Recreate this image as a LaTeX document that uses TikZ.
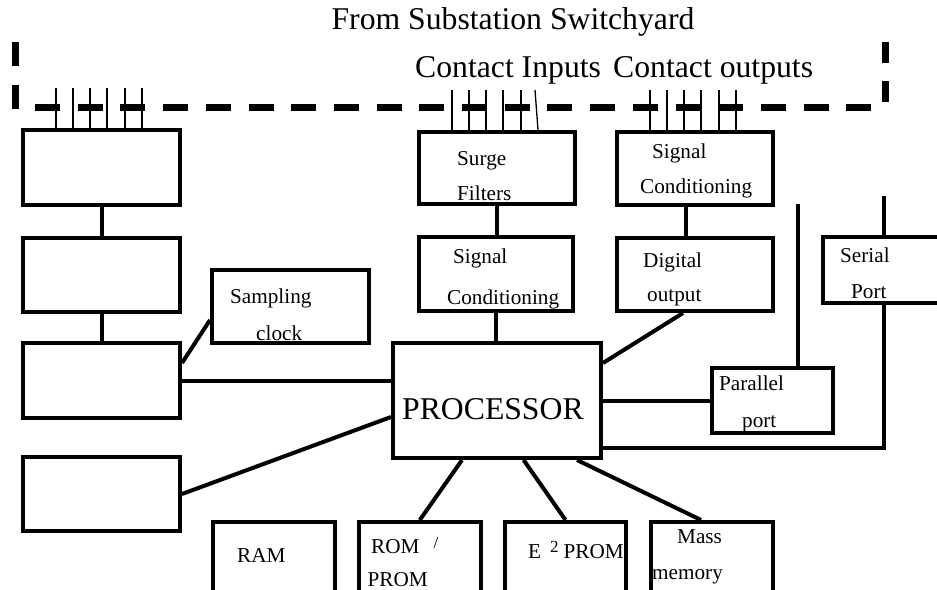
\documentclass[tikz,border=0pt]{standalone}
\usepackage{fontspec}
\setmainfont{Liberation Serif}
\newcommand{\bigtxt}{\fontsize{31.7}{32}\selectfont}
\newcommand{\smtxt}{\fontsize{21.2}{22}\selectfont}
\newcommand{\suptxt}{\fontsize{17}{17}\selectfont}

\begin{document}
\begin{tikzpicture}[x=1pt, y=-1pt,
  blk/.style={draw, line width=4pt, inner sep=0pt},
  lbl/.style={anchor=base west, inner sep=0pt, font=\smtxt},
  big/.style={anchor=base west, inner sep=0pt, font=\bigtxt},
  wire/.style={line width=4pt},
  tick/.style={line width=1.3pt},
  yard/.style={line width=7pt, dash pattern=on 24pt off 19pt}]
\clip (0,0) rectangle (937,589);
% switchyard boundary (open at the top)
\draw[yard] (15.5,42) -- (15.5,110);
\draw[yard, dash pattern=on 25pt off 17.7pt] (35,107.5) -- (872,107.5);
\draw[yard, dash pattern=on 21pt off 18pt] (885,42) -- (885,106);
\node[big, anchor=base] (title) at (513,29) {From Substation Switchyard};
\node[big] (cin)  at (415,77) {Contact Inputs};
\node[big] (cout) at (613,77) {Contact outputs};

% analog chain
\node[blk, minimum width=157pt, minimum height=75pt] (b1) at (101.5,167.5) {};
\node[blk, minimum width=157pt, minimum height=74pt] (b2) at (101.5,275) {};
\node[blk, minimum width=157pt, minimum height=75pt] (b3) at (101.5,380.5) {};
\node[blk, minimum width=157pt, minimum height=74pt] (b4) at (101.5,494) {};
\node[blk, minimum width=157pt, minimum height=73pt] (clk) at (290.5,306.5) {};
% contact inputs / outputs
\node[blk, minimum width=156pt, minimum height=72pt] (sf)   at (497,168) {};
\node[blk, minimum width=154pt, minimum height=74pt] (sci)  at (496,274) {};
\node[blk, minimum width=156pt, minimum height=73pt] (sco)  at (695,168.5) {};
\node[blk, minimum width=156pt, minimum height=73pt] (dout) at (695,274.5) {};
% processor and ports
\node[blk, minimum width=208pt, minimum height=115pt] (proc) at (497,400.5) {};
\node[blk, minimum width=121pt, minimum height=65pt] (par) at (772.5,400.5) {};
\node[blk, minimum width=122pt, minimum height=66pt] (ser) at (884,270) {};
% memories
\node[blk, minimum width=122pt, minimum height=74pt] (ram)  at (274,559) {};
\node[blk, minimum width=122pt, minimum height=74pt] (rom)  at (419.8,559) {};
\node[blk, minimum width=121pt, minimum height=74pt] (e2)   at (565.5,559) {};
\node[blk, minimum width=122pt, minimum height=74pt] (mass) at (712,559) {};

% texts
\node[big] (tproc) at (402,419) {PROCESSOR};
\node[lbl] (tsf1) at (457,165) {Surge};
\node[lbl] (tsf2) at (457,200) {Filters};
\node[lbl] (tsci1) at (453,263) {Signal};
\node[lbl] (tsci2) at (447,304) {Conditioning};
\node[lbl] (tsco1) at (652,158) {Signal};
\node[lbl] (tsco2) at (640,193) {Conditioning};
\node[lbl] (tdo1) at (643,267) {Digital};
\node[lbl] (tdo2) at (647,301) {output};
\node[lbl] (tclk1) at (230,303) {Sampling};
\node[lbl] (tclk2) at (256,340) {clock};
\node[lbl] (tpar1) at (719,390) {Parallel};
\node[lbl] (tpar2) at (742,427) {port};
\node[lbl] (tser1) at (840,262) {Serial};
\node[lbl] (tser2) at (851,298) {Port};
\node[lbl] (tram) at (237,562) {RAM};
\node[lbl] (trom1) at (371,553) {ROM\hspace{14pt}\raisebox{5pt}{\suptxt /}};
\node[lbl] (trom2) at (367.5,586) {PROM};
\node[lbl] (te2) at (528,558) {E\hspace{9pt}\raisebox{6pt}{\suptxt 2}\hspace{5pt}PROM};
\node[lbl] (tmass1) at (677,543) {Mass};
\node[lbl] (tmass2) at (652,579) {memory};

% field wiring
\foreach \dx in {35,52,69,86,104,121} {
  \draw[tick] ([xshift=\dx pt]b1.north west) -- ++(0,-40);
  \draw[tick] ([xshift=\dx pt]sco.north west) -- ++(0,-40);
}
\foreach \dx in {35,52,69,86,104} \draw[tick] ([xshift=\dx pt]sf.north west) -- ++(0,-40);
\draw[tick] ([xshift=121pt]sf.north west) -- ++(-3,-40);

% connections
\draw[wire] (b1.south) -- (b2.north);
\draw[wire] (b2.south) -- (b3.north);
\draw[wire] ([yshift=-22pt]b3.north east) -- ([yshift=-13.5pt]clk.west);
\draw[wire] (b3.east) -- (b3.east -| proc.west);
\draw[wire] (b4.east) -- ([yshift=-16.5pt]proc.west);
\draw[wire] (sf.south) -- (sf.south |- sci.north);
\draw[wire] (sci.south) -- (sci.south |- proc.north);
\draw[wire] ([xshift=-9pt]sco.south) -- ([xshift=-9pt]dout.north);
\draw[wire] ([xshift=-12pt]dout.south) -- ([yshift=37.5pt]proc.east);
\draw[wire] (proc.east) -- (par.west);
\draw[wire] ([yshift=-47.5pt]proc.east) -| (ser.south);
\coordinate (parup) at (798,204);
\coordinate (serup) at (884,196);
\draw[wire] (par.north -| parup) -- (parup);
\draw[wire] (ser.north) -- (serup);
\draw[wire] ([xshift=-35pt]proc.south) -- (rom.north);
\draw[wire] ([xshift=26.6pt]proc.south) -- (e2.north);
\draw[wire] ([xshift=80pt]proc.south) -- ([xshift=-11pt]mass.north);
\end{tikzpicture}
\end{document}
